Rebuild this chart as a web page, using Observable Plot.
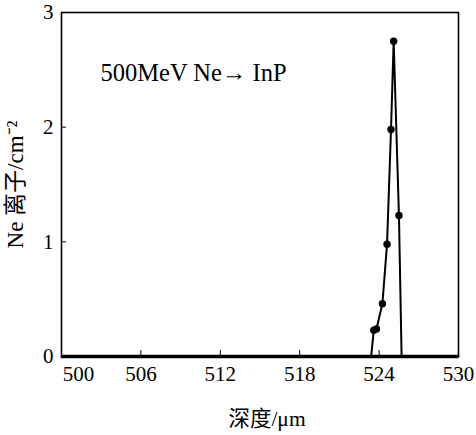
<!DOCTYPE html>
<html>
<head>
<meta charset="utf-8">
<script src="https://cdn.jsdelivr.net/npm/d3@7"></script>
<script src="https://cdn.jsdelivr.net/npm/@observablehq/plot@0.6"></script>
<style>
  html, body { margin: 0; padding: 0; background: #fff; }
  svg { display: block; }
  svg, svg text { font-family: "Liberation Serif", "Noto Sans CJK SC", serif !important; }
</style>
</head>
<body>
<div id="chart"></div>
<script>
// Profile line (depth in µm, Ne ions per cm^-2)
const lineDepth = [500, 523.4, 523.6, 523.8, 524.25, 524.6, 524.9, 525.1, 525.5, 525.7, 530];
const lineIons  = [0,   0,     0.23,  0.24,  0.46,   0.98,  1.98,  2.75,  1.23,  0,     0];
// Measured points (dots)
const dotDepth = [523.6, 523.8, 524.25, 524.6, 524.9, 525.1, 525.5];
const dotIons  = [0.23,  0.24,  0.46,   0.98,  1.98,  2.75,  1.23];
// Ticks
const xTicks = [500, 506, 512, 518, 524, 530];
const yTicks = [0, 1, 2, 3];
const annotation = "500MeV Ne\u2192 InP";
const xLabel = "深度/\u03bcm";
const yLabel = "Ne 离子/cm\u207b\u00b2";

const lineData = lineDepth.map((d, i) => ({depth: d, ions: lineIons[i]}));
const dotData = dotDepth.map((d, i) => ({depth: d, ions: dotIons[i]}));

const chart = Plot.plot({
  width: 476,
  height: 435,
  marginLeft: 61,
  marginRight: 18,
  marginTop: 12,
  marginBottom: 79,
  style: {fontSize: "21px", background: "#fff", color: "#000"},
  x: {domain: [500, 530]},
  y: {domain: [0, 3]},
  marks: [
    Plot.frame({stroke: "#000", strokeWidth: 1.6}),
    Plot.axisX({ticks: xTicks.slice(0, 1), tickSize: 0, tickPadding: 10, dx: 17, tickFormat: d3.format("d"), label: null, fontSize: 21}),
    Plot.axisX({ticks: xTicks.slice(1), tickSize: 0, tickPadding: 10, tickFormat: d3.format("d"), label: null, fontSize: 21}),
    Plot.axisX({ticks: xTicks, tickSize: -6, tickFormat: () => "", label: null}),
    Plot.axisY({ticks: yTicks, tickSize: 0, tickPadding: 8, tickFormat: d3.format("d"), label: null, fontSize: 21}),
    Plot.axisY({ticks: yTicks, tickSize: -5, tickFormat: () => "", label: null}),
    Plot.ruleY([0], {stroke: "#000", strokeWidth: 3.5}),
    Plot.line(lineData, {x: "depth", y: "ions", stroke: "#000", strokeWidth: 2}),
    Plot.dot(dotData, {x: "depth", y: "ions", r: 3.7, fill: "#000", stroke: "none"}),
    Plot.text([annotation], {frameAnchor: "top-left", dx: 39, dy: 51, text: d => d, fontSize: 24.5, textAnchor: "start"}),
    Plot.text([xLabel], {frameAnchor: "bottom", dy: 69, dx: 7, text: d => d, fontSize: 21.5}),
    Plot.text([yLabel], {frameAnchor: "left", dx: -46, rotate: -90, textAnchor: "middle", text: d => d, fontSize: 23, letterSpacing: "1px"})
  ]
});
document.getElementById("chart").appendChild(chart);
</script>
</body>
</html>
